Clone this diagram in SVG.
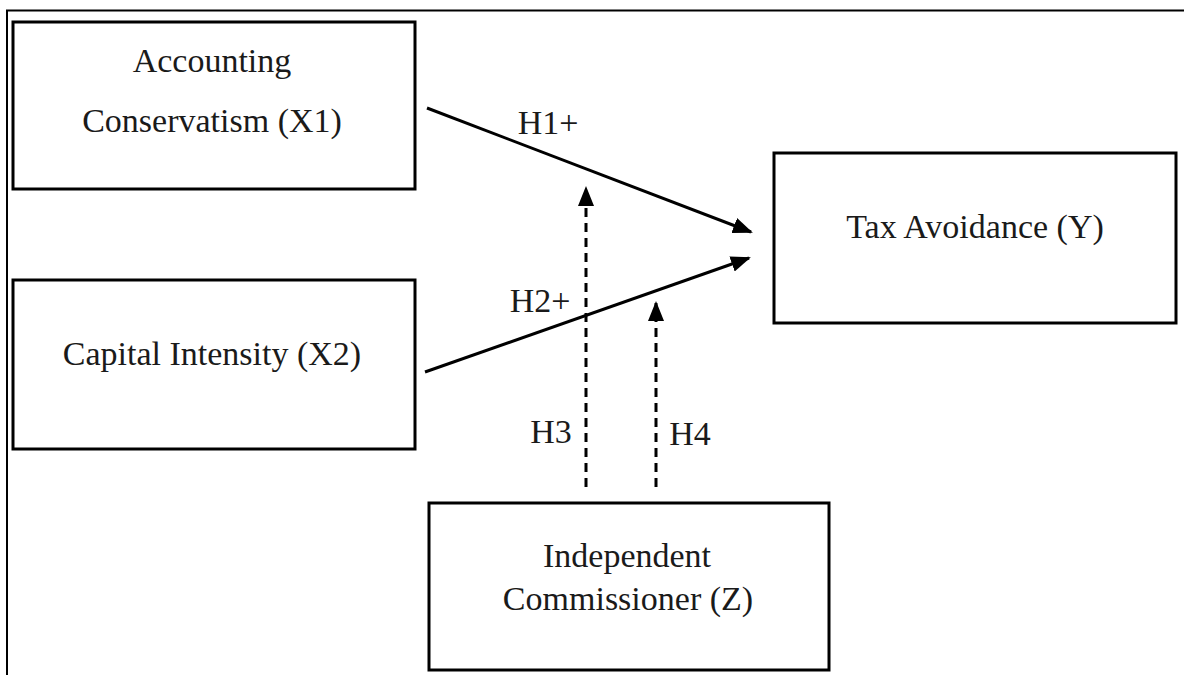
<svg xmlns="http://www.w3.org/2000/svg" width="1184" height="675" viewBox="0 0 1184 675">
<style>
.box{fill:#fff;stroke:#000;stroke-width:3}
.lbl{font-family:"Liberation Serif","Times New Roman",serif;font-size:34px;fill:#1a1a1a;text-anchor:middle}
.con{stroke:#000;stroke-width:3;fill:none}
.dash{stroke-dasharray:9,6}
</style>
<defs>
<marker id="ah" markerWidth="20" markerHeight="16" refX="18" refY="8" orient="auto" markerUnits="userSpaceOnUse">
<path d="M0,0 L20,8 L0,16 Z" fill="#000"/>
</marker>
</defs>
<rect width="1184" height="675" fill="#fff"/>
<g id="frame">
<path d="M7,675 V10.5 H1184" fill="none" stroke="#000" stroke-width="2"/>
</g>
<g id="x1">
<rect class="box" x="13" y="22" width="402" height="167"/>
<text class="lbl" x="212" y="72">Accounting</text>
<text class="lbl" x="212" y="132">Conservatism (X1)</text>
</g>
<g id="x2">
<rect class="box" x="13" y="280" width="402" height="169"/>
<text class="lbl" x="212" y="365">Capital Intensity (X2)</text>
</g>
<g id="y">
<rect class="box" x="774" y="153" width="402" height="170"/>
<text class="lbl" x="975" y="238">Tax Avoidance (Y)</text>
</g>
<g id="z">
<rect class="box" x="429" y="503" width="400" height="167"/>
<text class="lbl" x="627" y="567">Independent</text>
<text class="lbl" x="628" y="610">Commissioner (Z)</text>
</g>
<g id="connectors">
<line class="con" x1="427" y1="108" x2="751" y2="232" marker-end="url(#ah)"/>
<line class="con" x1="425" y1="372" x2="749" y2="258" marker-end="url(#ah)"/>
<line class="con dash" x1="586" y1="487" x2="586" y2="188" marker-end="url(#ah)"/>
<line class="con dash" x1="656" y1="487" x2="656" y2="303" marker-end="url(#ah)"/>
<text class="lbl" x="548" y="134">H1+</text>
<text class="lbl" x="540" y="312">H2+</text>
<text class="lbl" x="551" y="443">H3</text>
<text class="lbl" x="690" y="445">H4</text>
</g>
</svg>
